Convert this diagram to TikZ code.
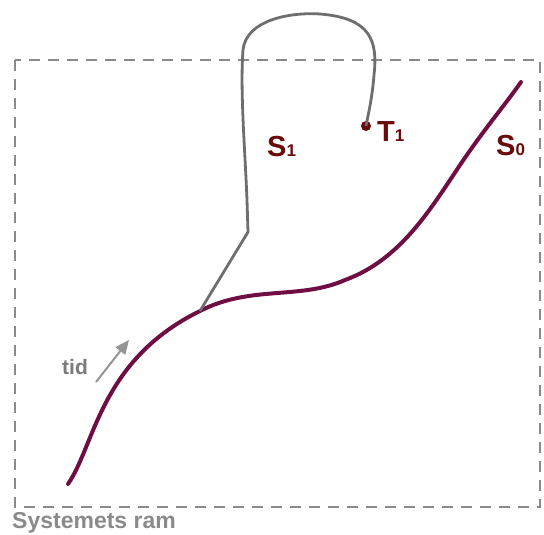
\documentclass[tikz,border=0pt]{standalone}
\usepackage{fontspec}
\setmainfont{Liberation Sans}
\usetikzlibrary{arrows.meta}
\definecolor{frame}{HTML}{8A8A8A}
\definecolor{curveS}{HTML}{6E0E42}
\definecolor{lab}{HTML}{6A0A0A}
\definecolor{grayline}{HTML}{6E6E6E}
\definecolor{tidgray}{HTML}{7A7A7A}
\tikzset{
  framebox/.style={draw=frame, line width=2.2pt, dash pattern=on 11pt off 8pt},
  mainpath/.style={draw=curveS, line width=4pt},
  branchpath/.style={draw=grayline, line width=2.8pt},
  lbl/.style={text=lab, font=\fontsize{29}{32}\selectfont\bfseries, inner sep=0pt},
}
\newcommand{\subn}[1]{{\fontsize{17}{20}\selectfont #1}}
\begin{document}
\begin{tikzpicture}[x=1pt,y=-1pt]
\useasboundingbox (0,0) rectangle (544,535);
\draw[framebox] (15,60) rectangle (540,507);
\node[anchor=base west, text=frame, font=\fontsize{23}{26}\selectfont\bfseries, inner sep=0pt] (sysram) at (12,528) {Systemets ram};
% S0 curve
\coordinate (s0start) at (68,484);
\coordinate (branch) at (200,311);
\coordinate (s0end) at (521,82);
\draw[mainpath, line cap=round]
  (s0start) .. controls (95,445) and (100,360) .. (branch)
  .. controls (250,285) and (300,300) .. (345,280)
  .. controls (400,260) and (430,210) .. (460,165)
  .. controls (485,128) and (505,105) .. (s0end);
% S1 branch
\node[circle, fill=lab, inner sep=0pt, minimum size=10pt] (t1dot) at (366,126) {};
\draw[branchpath]
  (branch) -- (248,232) -- (247,200)
  .. controls (245,150) and (240,90) .. (243,50)
  .. controls (246,20) and (290,12) .. (320,14)
  .. controls (370,18) and (378,40) .. (374,75)
  .. controls (372,100) and (368,115) .. (t1dot.center);
% labels
\node[lbl, anchor=base west] (s1lab) at (267,156) {S\subn{1}};
\node[lbl, anchor=base west] (t1lab) at (377,141) {T\subn{1}};
\node[lbl, anchor=base west] (s0lab) at (496,155) {S\subn{0}};
% tid arrow
\node[anchor=base west, text=tidgray, font=\fontsize{21}{24}\selectfont\bfseries, inner sep=0pt] (tidlab) at (62,374) {tid};
\coordinate (tidA) at (96,382);
\coordinate (tidB) at (129,340);
\draw[draw=tidgray!80, line width=2pt, -{Triangle[length=14pt,width=12pt]}] (tidA) -- (tidB);
\end{tikzpicture}
\end{document}
